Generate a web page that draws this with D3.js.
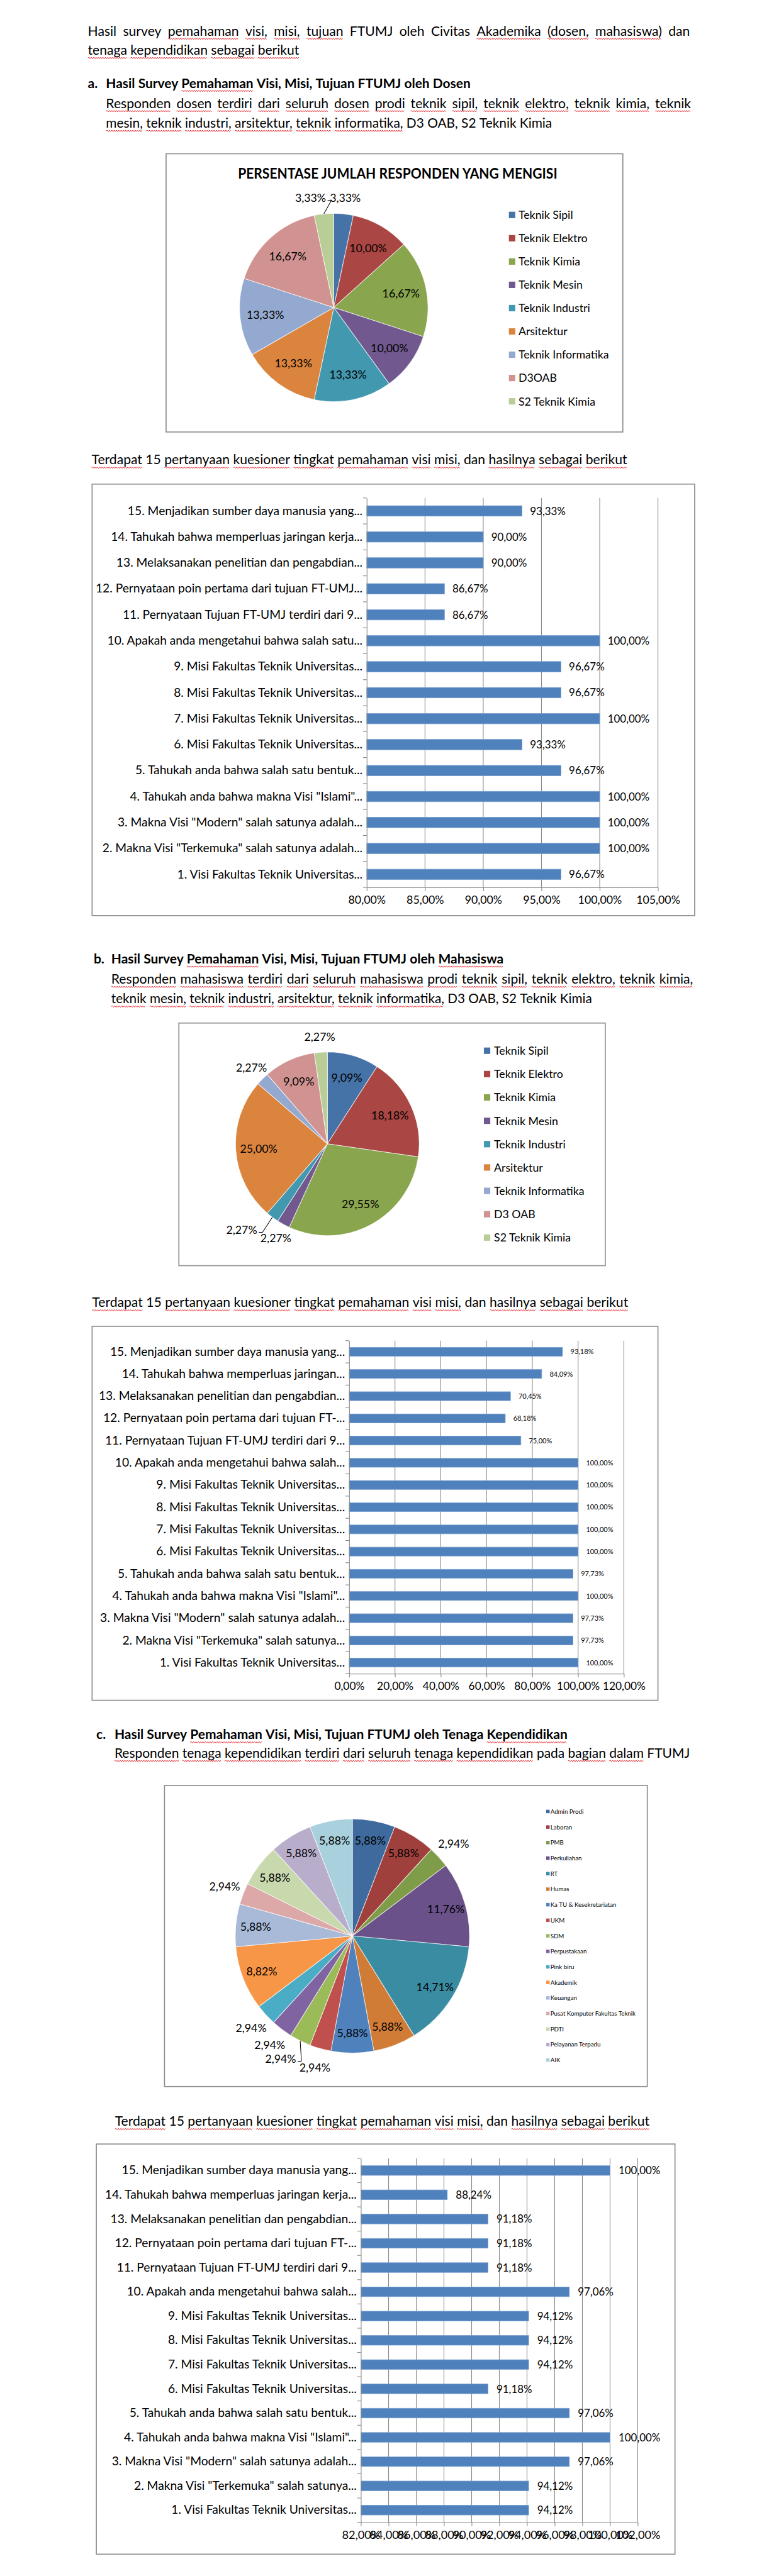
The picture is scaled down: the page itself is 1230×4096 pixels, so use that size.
<!DOCTYPE html>
<html><head><meta charset="utf-8">
<script src="https://cdn.jsdelivr.net/npm/d3@7"></script>
<style>html,body{margin:0;padding:0;background:#fff;} svg{display:block;}</style>
</head><body>
<script>
// ================= DATA =================
const introLine1 = "Hasil survey ~pemahaman ~visi, ~misi, ~tujuan FTUMJ oleh Civitas ~Akademika ~(dosen, ~mahasiswa) dan";
const introLine2 = "~tenaga ~kependidikan ~sebagai ~berikut";
const headingA = "Hasil Survey ~Pemahaman Visi, Misi, Tujuan FTUMJ oleh Dosen";
const descA1 = "~Responden ~dosen ~terdiri ~dari ~seluruh ~dosen ~prodi ~teknik ~sipil, ~teknik ~elektro, ~teknik ~kimia, ~teknik";
const descA2 = "~mesin, ~teknik ~industri, ~arsitektur, ~teknik ~informatika, D3 OAB, S2 Teknik Kimia";
const questionIntro = "~Terdapat 15 ~pertanyaan ~kuesioner ~tingkat ~pemahaman ~visi ~misi, dan ~hasilnya ~sebagai ~berikut";
const headingB = "Hasil Survey ~Pemahaman Visi, Misi, Tujuan FTUMJ oleh ~Mahasiswa";
const descB1 = "~Responden ~mahasiswa ~terdiri ~dari ~seluruh ~mahasiswa ~prodi ~teknik ~sipil, ~teknik ~elektro, ~teknik ~kimia,";
const descB2 = "~teknik ~mesin, ~teknik ~industri, ~arsitektur, ~teknik ~informatika, D3 OAB, S2 Teknik Kimia";
const headingC = "Hasil Survey ~Pemahaman Visi, Misi, Tujuan FTUMJ oleh Tenaga ~Kependidikan";
const descC1 = "~Responden ~tenaga ~kependidikan ~terdiri ~dari ~seluruh ~tenaga ~kependidikan pada ~bagian ~dalam FTUMJ";

const pieDosenTitle = "PERSENTASE JUMLAH RESPONDEN YANG MENGISI";
const pieDosenCategories = ["Teknik Sipil","Teknik Elektro","Teknik Kimia","Teknik Mesin","Teknik Industri","Arsitektur","Teknik Informatika","D3OAB","S2 Teknik Kimia"];
const pieDosenValues = [3.33,10.00,16.67,10.00,13.33,13.33,13.33,16.67,3.33];

const pieMhsCategories = ["Teknik Sipil","Teknik Elektro","Teknik Kimia","Teknik Mesin","Teknik Industri","Arsitektur","Teknik Informatika","D3 OAB","S2 Teknik Kimia"];
const pieMhsValues = [9.09,18.18,29.55,2.27,2.27,25.00,2.27,9.09,2.27];

const pieTendikCategories = ["Admin Prodi","Laboran","PMB","Perkuliahan","RT","Humas","Ka TU & Kesekretariatan","UKM","SDM","Perpustakaan","Pink biru","Akademik","Keuangan","Pusat Komputer Fakultas Teknik","PDTI","Pelayanan Terpadu","AIK"];
const pieTendikValues = [5.88,5.88,2.94,11.76,14.71,5.88,5.88,2.94,2.94,2.94,2.94,8.82,5.88,2.94,5.88,5.88,5.88];

const dosenQuestions = [
 "1. Visi Fakultas Teknik Universitas...",
 "2. Makna Visi \"Terkemuka\" salah satunya adalah...",
 "3. Makna Visi \"Modern\" salah satunya adalah...",
 "4. Tahukah anda bahwa makna Visi \"Islami\"...",
 "5. Tahukah anda bahwa salah satu bentuk...",
 "6. Misi Fakultas Teknik Universitas...",
 "7. Misi Fakultas Teknik Universitas...",
 "8. Misi Fakultas Teknik Universitas...",
 "9. Misi Fakultas Teknik Universitas...",
 "10. Apakah anda mengetahui bahwa salah satu...",
 "11. Pernyataan Tujuan FT-UMJ terdiri dari 9...",
 "12. Pernyataan poin pertama dari tujuan FT-UMJ...",
 "13. Melaksanakan penelitian dan pengabdian...",
 "14. Tahukah bahwa memperluas jaringan kerja...",
 "15. Menjadikan sumber daya manusia yang..."];
const dosenValues = [96.67,100,100,100,96.67,93.33,100,96.67,96.67,100,86.67,86.67,90.00,90.00,93.33];
const dosenTicks = [80,85,90,95,100,105];

const mhsQuestions = [
 "1. Visi Fakultas Teknik Universitas...",
 "2. Makna Visi \"Terkemuka\" salah satunya...",
 "3. Makna Visi \"Modern\" salah satunya adalah...",
 "4. Tahukah anda bahwa makna Visi \"Islami\"...",
 "5. Tahukah anda bahwa salah satu bentuk...",
 "6. Misi Fakultas Teknik Universitas...",
 "7. Misi Fakultas Teknik Universitas...",
 "8. Misi Fakultas Teknik Universitas...",
 "9. Misi Fakultas Teknik Universitas...",
 "10. Apakah anda mengetahui bahwa salah...",
 "11. Pernyataan Tujuan FT-UMJ terdiri dari 9...",
 "12. Pernyataan poin pertama dari tujuan FT-...",
 "13. Melaksanakan penelitian dan pengabdian...",
 "14. Tahukah bahwa memperluas jaringan...",
 "15. Menjadikan sumber daya manusia yang..."];
const mhsValues = [100,97.73,97.73,100,97.73,100,100,100,100,100,75.00,68.18,70.45,84.09,93.18];
const mhsTicks = [0,20,40,60,80,100,120];

const tendikQuestions = [
 "1. Visi Fakultas Teknik Universitas...",
 "2. Makna Visi \"Terkemuka\" salah satunya...",
 "3. Makna Visi \"Modern\" salah satunya adalah...",
 "4. Tahukah anda bahwa makna Visi \"Islami\"...",
 "5. Tahukah anda bahwa salah satu bentuk...",
 "6. Misi Fakultas Teknik Universitas...",
 "7. Misi Fakultas Teknik Universitas...",
 "8. Misi Fakultas Teknik Universitas...",
 "9. Misi Fakultas Teknik Universitas...",
 "10. Apakah anda mengetahui bahwa salah...",
 "11. Pernyataan Tujuan FT-UMJ terdiri dari 9...",
 "12. Pernyataan poin pertama dari tujuan FT-...",
 "13. Melaksanakan penelitian dan pengabdian...",
 "14. Tahukah bahwa memperluas jaringan kerja...",
 "15. Menjadikan sumber daya manusia yang..."];
const tendikValues = [94.12,94.12,97.06,100,97.06,91.18,94.12,94.12,94.12,97.06,91.18,91.18,91.18,88.24,100];
const tendikTicks = [82,84,86,88,90,92,94,96,98,100,102];

// ================= STYLE =================
const palette9 = ["#4572A7","#AA4643","#89A54E","#71588F","#4198AF","#DB843D","#93A9CF","#D19392","#B9CD96"];
const palette17 = ["#3F6A9E","#A0403D","#7F9C49","#6A5189","#3A8CA3","#D07C36","#4F81BD","#C0504D","#9BBB59","#8064A2","#4BACC6","#F79646","#A9BAD9","#DDA9A8","#C9D9AE","#B8AECB","#A9D1DD"];
const FONT = "Lato, 'Open Sans', sans-serif";
const BAR = "#4F81BD", GRID = "#8A8A8A", BORDER = "#8E8E8E", TXT = "#000";

const W = 1454, H = 4840;
const svg = d3.select("body").append("svg").attr("width",1230).attr("height",4096).attr("viewBox",`0 0 ${W} ${H}`);
svg.append("rect").attr("width",W).attr("height",H).attr("fill","#fff");

function measure(str, size, weight, fam){
  const t = svg.append("text").attr("font-family",fam||FONT).attr("font-size",size).attr("font-weight",weight||"normal").text(str);
  const w = t.node().getComputedTextLength(); t.remove(); return w;
}
const pct = v => d3.format(".2f")(v).replace(".", ",") + "%";

function wavy(a,b,y){
  let d = `M${a.toFixed(1)},${y}`; let up = true;
  for (let x = a + 2.2; x <= b; x += 2.2){ d += `L${x.toFixed(1)},${(y + (up ? -1.3 : 1.3)).toFixed(1)}`; up = !up; }
  return d;
}

// draws one line of words spread between x0 and x1 (shrinks the font if it cannot fit)
function drawLine(str, x0, x1, baseline, opts = {}){
  let size = opts.size || 25;
  const weight = opts.bold ? "bold" : "normal";
  const words = str.split(" ").map(s => ({t: s.replace(/^~/, ""), u: s.startsWith("~")}));
  const layout = () => {
    words.forEach(w => w.w = measure(w.t, size, weight));
    const space = measure("a a", size, weight) - measure("aa", size, weight);
    return {sum: d3.sum(words, w => w.w), space};
  };
  let {sum, space} = layout();
  const natural = sum + space * (words.length - 1);
  if (natural > x1 - x0){ size *= (x1 - x0) / natural; ({sum, space} = layout()); }
  const gap = words.length > 1 ? Math.max(space * 0.98, (x1 - x0 - sum) / (words.length - 1)) : 0;
  const g = svg.append("g").attr("font-family", FONT).attr("font-size", size).attr("font-weight", weight).attr("fill", TXT);
  let x = x0;
  words.forEach(w => {
    g.append("text").attr("x", x).attr("y", baseline).text(w.t);
    if (w.u) g.append("path").attr("d", wavy(x, x + w.w, baseline + 6)).attr("fill","none").attr("stroke","#E8141B").attr("stroke-width",1.1);
    x += w.w + gap;
  });
}

function drawPie(cfg){
  const {box, cx, cy, r, cats, vals, colors} = cfg;
  svg.append("rect").attr("x",box[0]).attr("y",box[1]).attr("width",box[2]-box[0]).attr("height",box[3]-box[1])
    .attr("fill","#fff").attr("stroke",BORDER).attr("stroke-width",2);
  if (cfg.title){
    svg.append("text").attr("x",cfg.titleX).attr("y",cfg.titleY).attr("text-anchor","middle")
      .attr("font-family",FONT).attr("font-weight","bold").attr("font-size",cfg.titleSize)
      .attr("textLength", cfg.titleW).attr("lengthAdjust","spacingAndGlyphs").text(cfg.title);
  }
  const data = cats.map((c,i) => ({c, v: vals[i], col: colors[i]}));
  const arcs = d3.pie().sort(null).value(d => d.v)(data);
  const arc = d3.arc().innerRadius(0).outerRadius(r);
  const g = svg.append("g").attr("transform",`translate(${cx},${cy})`);
  g.selectAll("path").data(arcs).join("path").attr("d",arc).attr("fill",d => d.data.col)
    .attr("stroke","#fff").attr("stroke-width",1.2).attr("stroke-opacity",0.7);
  const lsize = cfg.labelSize;
  const placed = [];
  arcs.forEach(a => {
    const txt = pct(a.data.v);
    const w = measure(txt, lsize), h = lsize * 0.78;
    const mid = (a.startAngle + a.endAngle) / 2;
    const inside = a.data.v >= 4;
    const rr = inside ? r * cfg.inFactor : r * 1.17;
    let x = Math.sin(mid) * rr, y = -Math.cos(mid) * rr;
    let moved = false;
    if (!inside){
      const dir = x < 0 ? -1 : 1;
      let guard = 0;
      while (placed.some(p => Math.abs(p.x - x) < (p.w + w)/2 + 6 && Math.abs(p.y - y) < (p.h + h)/2 + 2) && guard++ < 300){ x += dir * 2; moved = true; }
      placed.push({x, y, w, h});
    }
    g.append("text").attr("x",x).attr("y",y).attr("dy","0.36em").attr("text-anchor","middle")
      .attr("font-family",FONT).attr("font-size",lsize).attr("fill",TXT).text(txt);
    if (moved){
      const ex = Math.sin(mid) * r, ey = -Math.cos(mid) * r;
      const side = ex > x ? 1 : -1;
      const lx = x + side * (w/2 + 3);
      g.append("path").attr("d",`M${lx},${y + h*0.3} L${lx + side*7},${y + h*0.3} L${ex},${ey}`)
        .attr("fill","none").attr("stroke","#000").attr("stroke-width",1.2);
    }
  });
  const lg = svg.append("g").attr("font-family",FONT).attr("font-size",cfg.legSize).attr("fill",TXT);
  cats.forEach((c,i) => {
    const yy = cfg.legY + i * cfg.legStep;
    lg.append("rect").attr("x",cfg.legX).attr("y",yy - cfg.legSq/2).attr("width",cfg.legSq).attr("height",cfg.legSq).attr("fill",colors[i]);
    lg.append("text").attr("x",cfg.legTextX).attr("y",yy).attr("dy","0.36em").text(c);
  });
}

function drawBarChart(cfg){
  const {box, plot, cats, vals, ticks} = cfg;
  svg.append("rect").attr("x",box[0]).attr("y",box[1]).attr("width",box[2]-box[0]).attr("height",box[3]-box[1])
    .attr("fill","#fff").attr("stroke",BORDER).attr("stroke-width",2);
  const x = d3.scaleLinear().domain([ticks[0], ticks[ticks.length-1]]).range([plot[0], plot[2]]);
  const y = d3.scaleBand().domain(cats.slice().reverse()).range([plot[1], plot[3]]).paddingInner(0.6).paddingOuter(0.3);
  const g = svg.append("g");
  g.selectAll("line.grid").data(ticks.slice(1)).join("line").attr("class","grid")
    .attr("x1",d => x(d)).attr("x2",d => x(d)).attr("y1",plot[1]).attr("y2",plot[3])
    .attr("stroke",GRID).attr("stroke-width",1.3);
  const rows = cats.map((c,i) => ({c, v: vals[i]}));
  g.selectAll("rect.bar").data(rows).join("rect").attr("class","bar")
    .attr("x",x(ticks[0])).attr("y",d => y(d.c)).attr("width",d => x(d.v) - x(ticks[0])).attr("height",y.bandwidth())
    .attr("fill",BAR).attr("stroke","#7DA2D0").attr("stroke-width",1);
  g.selectAll("text.val").data(rows).join("text").attr("class","val")
    .attr("x",d => x(d.v) + cfg.valOffset).attr("y",d => y(d.c) + y.bandwidth()/2).attr("dy","0.36em")
    .attr("font-family",FONT).attr("font-size",cfg.valSize).attr("fill",TXT).text(d => pct(d.v));
  const xa = g.append("g").attr("transform",`translate(0,${plot[3]})`)
    .call(d3.axisBottom(x).tickValues(ticks).tickSize(7).tickSizeOuter(0).tickFormat(pct));
  xa.select(".domain").attr("stroke",GRID).attr("stroke-width",1.3);
  xa.selectAll(".tick line").attr("stroke",GRID).attr("stroke-width",1.3);
  xa.selectAll(".tick text").attr("y",cfg.tickDy).attr("font-family",FONT).attr("font-size",cfg.tickSize).attr("fill",TXT);
  const ya = g.append("g").attr("transform",`translate(${plot[0]},0)`)
    .call(d3.axisLeft(y).tickSize(0).tickPadding(8).tickSizeOuter(0));
  ya.select(".domain").attr("stroke",GRID).attr("stroke-width",1.3);
  ya.selectAll(".tick text").attr("font-family",FONT).attr("font-size",cfg.catSize).attr("fill",TXT);
  const bounds = d3.range(cats.length + 1).map(i => plot[1] + i * y.step());
  g.selectAll("line.bt").data(bounds).join("line").attr("class","bt")
    .attr("x1",plot[0] - 7).attr("x2",plot[0]).attr("y1",d => d).attr("y2",d => d)
    .attr("stroke",GRID).attr("stroke-width",1.3);
}

// chart label size calibrated so the longest label spans its reference width
const catSize = 21.5 * 441 / measure("15. Menjadikan sumber daya manusia yang...", 21.5);

// ================= SECTION A =================
drawLine(introLine1, 165, 1296, 66);
drawLine(introLine2, 165, 562, 102);
drawLine("a.", 165, 190, 164, {bold:true});
drawLine(headingA, 199, 884, 164, {bold:true});
drawLine(descA1, 199, 1298, 202);
drawLine(descA2, 199, 1037, 239);

drawPie({box:[312,288,1170,811], cx:627, cy:577, r:177, cats:pieDosenCategories, vals:pieDosenValues, colors:palette9,
  title:pieDosenTitle, titleX:747, titleY:335, titleSize:26, titleW:600, labelSize:21, inFactor:0.73,
  legX:956, legTextX:974, legY:403, legStep:43.8, legSq:12, legSize:21});

drawLine(questionIntro, 172, 1178, 872);
drawBarChart({box:[173,909,1305,1720], plot:[689,935,1236,1667], cats:dosenQuestions, vals:dosenValues, ticks:dosenTicks,
  catSize, valSize:20, valOffset:15, tickSize:21, tickDy:16});

// ================= SECTION B =================
drawLine("b.", 176, 200, 1810, {bold:true});
drawLine(headingB, 209, 946, 1810, {bold:true});
drawLine(descB1, 209, 1302, 1848);
drawLine(descB2, 209, 1112, 1885);

drawPie({box:[336,1922,1137,2378], cx:615, cy:2149, r:172.5, cats:pieMhsCategories, vals:pieMhsValues, colors:palette9,
  labelSize:21, inFactor:0.75, legX:909, legTextX:928, legY:1974, legStep:43.9, legSq:12, legSize:21});

drawLine(questionIntro, 173, 1180, 2456);
drawBarChart({box:[173,2492,1236,3195], plot:[656,2519,1172,3145], cats:mhsQuestions, vals:mhsValues, ticks:mhsTicks,
  catSize, valSize:13, valOffset:15, tickSize:20.5, tickDy:16});

// ================= SECTION C =================
drawLine("c.", 181, 205, 3268, {bold:true});
drawLine(headingC, 215, 1066, 3268, {bold:true});
drawLine(descC1, 215, 1296, 3303);

drawPie({box:[309,3355,1216,3921], cx:662, cy:3638, r:220, cats:pieTendikCategories, vals:pieTendikValues, colors:palette17,
  labelSize:21, inFactor:0.83, legX:1026, legTextX:1034, legY:3404, legStep:29.2, legSq:6.5, legSize:11.5});

drawLine(questionIntro, 216, 1220, 3995);
drawBarChart({box:[181,4029,1268,4800], plot:[678,4056,1198,4740], cats:tendikQuestions, vals:tendikValues, ticks:tendikTicks,
  catSize, valSize:20, valOffset:16, tickSize:21.5, tickDy:16});
</script>
</body></html>
